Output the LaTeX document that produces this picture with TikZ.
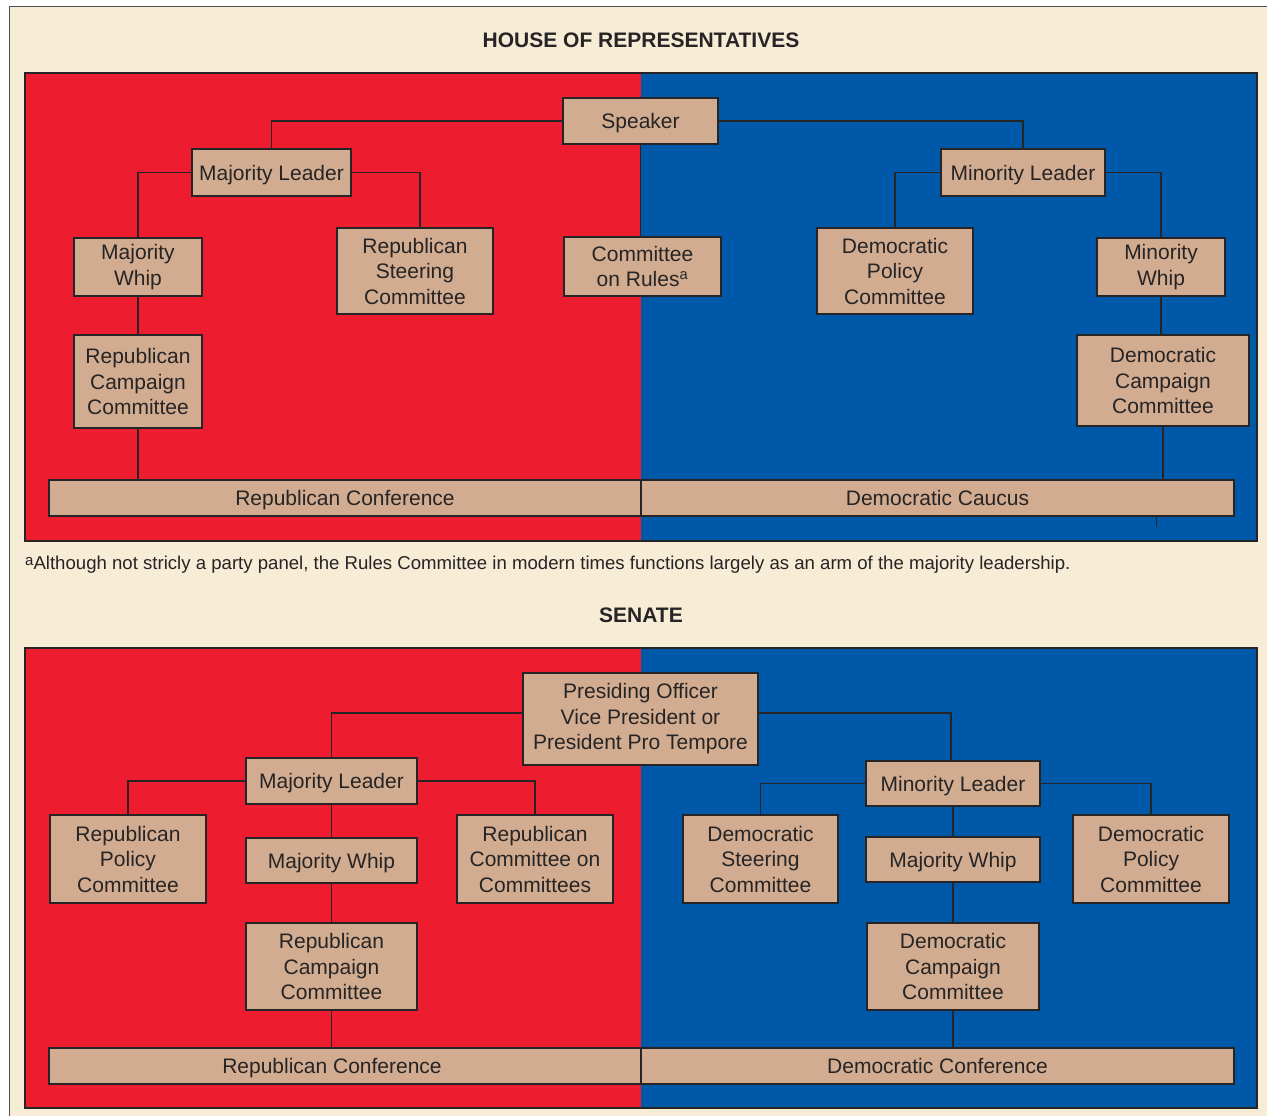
\documentclass[tikz,border=0pt]{standalone}
\usepackage{fontspec}
\setmainfont{Liberation Sans}
\definecolor{rd}{HTML}{ED1C2E}
\definecolor{bl}{HTML}{0059A8}
\definecolor{tan}{HTML}{D2AC91}
\definecolor{cream}{HTML}{F7ECD6}
\definecolor{ink}{HTML}{262424}
\begin{document}
\begin{tikzpicture}[x=1pt,y=-1pt,
  box/.style={draw=ink,line width=1.4pt,fill=tan,inner sep=0pt,align=center,text=ink,
    font=\fontsize{21}{25.5}\selectfont},
  one/.style={text height=15.2pt,text depth=0pt},
  conn/.style={draw=ink,line width=1.4pt},
  ttl/.style={font=\fontsize{21}{25}\selectfont\bfseries,text=ink,inner sep=0pt},
  panel/.style={draw=ink,line width=1.2pt}]
\useasboundingbox (0,0) rectangle (1267,1116);
\fill[white] (0,0) rectangle (1267,1116);
\draw[fill=cream,draw=ink!80,line width=1.2pt] (9.5,6.5) rectangle (1290,1140);
% panels
\fill[rd] (25,73) rectangle (641,541);
\fill[bl] (641,73) rectangle (1257,541);
\draw[panel] (25,73) rectangle (1257,541);
\fill[rd] (25,648) rectangle (641,1108);
\fill[bl] (641,648) rectangle (1257,1108);
\draw[panel] (25,648) rectangle (1257,1108);
% titles
\node[ttl] (t1) at (641,40) {HOUSE OF REPRESENTATIVES};
\node[ttl] (t2) at (641,615) {SENATE};
\node[anchor=west,text=ink,inner sep=0pt,font=\fontsize{18.6}{22}\selectfont] (fn) at (25,565)
  {\raisebox{0.45ex}{\fontsize{15}{15}\selectfont a}Although not stricly a party panel, the Rules Committee in modern times functions largely as an arm of the majority leadership.};
% House nodes
\node[box,one,minimum width=155pt,minimum height=46pt] (hSpk) at (640.5,121) {Speaker};
\node[box,one,minimum width=159pt,minimum height=47pt] (hMajL) at (271.5,172.5) {Majority Leader};
\node[box,one,minimum width=164pt,minimum height=47pt] (hMinL) at (1023,172.5) {Minority Leader};
\node[box,minimum width=128pt,minimum height=58pt] (hMajW) at (138,267) {Majority\\Whip};
\node[box,minimum width=156pt,minimum height=86pt] (hRSC) at (415,271) {Republican\\Steering\\Committee};
\node[box,minimum width=157pt,minimum height=59pt] (hRules) at (642.5,266.5) {Committee\\on Rules\textsuperscript{a}};
\node[box,minimum width=156pt,minimum height=86pt] (hDPC) at (895,271) {Democratic\\Policy\\Committee};
\node[box,minimum width=128pt,minimum height=58pt] (hMinW) at (1161,267) {Minority\\Whip};
\node[box,minimum width=128pt,minimum height=93pt] (hRCC) at (138,381.5) {Republican\\Campaign\\Committee};
\node[box,minimum width=172pt,minimum height=91pt] (hDCC) at (1163,380.5) {Democratic\\Campaign\\Committee};
\node[box,one,minimum width=592pt,minimum height=36pt] (hRConf) at (345,498) {Republican Conference};
\node[box,one,minimum width=593pt,minimum height=36pt] (hDCau) at (937.5,498) {Democratic Caucus};
\coordinate (stub) at (1156,527);
% House connectors
\draw[conn] (hSpk.west) -| (hMajL.north);
\draw[conn] (hSpk.east) -| (hMinL.north);
\draw[conn] (hSpk.south) -- (hSpk.south |- hRules.north);
\draw[conn] (hMajL.west) -| (hMajW.north);
\draw[conn] (hMajL.east) -| ([xshift=5pt]hRSC.north);
\draw[conn] (hMajW.south) -- (hRCC.north);
\draw[conn] (hRCC.south) -- (hRCC.south |- hRConf.north);
\draw[conn] (hMinL.west) -| (hDPC.north);
\draw[conn] (hMinL.east) -| (hMinW.north);
\draw[conn] (hMinW.south) -- (hMinW.south |- hDCC.north);
\draw[conn] (hDCC.south) -- (hDCC.south |- hDCau.north);
\draw[conn,line width=1pt] (hDCau.south -| stub) -- (stub);
% Senate nodes
\node[box,minimum width=235pt,minimum height=92pt] (sPO) at (640.5,719) {Presiding Officer\\Vice President or\\President Pro Tempore};
\node[box,one,minimum width=171pt,minimum height=46pt] (sMajL) at (331.5,781) {Majority Leader};
\node[box,one,minimum width=174pt,minimum height=45pt] (sMinL) at (953,783.5) {Minority Leader};
\node[box,minimum width=156pt,minimum height=88pt] (sRPC) at (128,859) {Republican\\Policy\\Committee};
\node[box,one,minimum width=171pt,minimum height=45pt] (sMajW) at (331.5,860.5) {Majority Whip};
\node[box,minimum width=156pt,minimum height=88pt] (sRCoC) at (535,859) {Republican\\Committee on\\Committees};
\node[box,minimum width=155pt,minimum height=88pt] (sDSC) at (760.5,859) {Democratic\\Steering\\Committee};
\node[box,one,minimum width=174pt,minimum height=45pt] (sMajW2) at (953,859.5) {Majority Whip};
\node[box,minimum width=156pt,minimum height=88pt] (sDPC) at (1151,859) {Democratic\\Policy\\Committee};
\node[box,minimum width=171pt,minimum height=87pt] (sRCC) at (331.5,966.5) {Republican\\Campaign\\Committee};
\node[box,minimum width=172pt,minimum height=87pt] (sDCC) at (953,966.5) {Democratic\\Campaign\\Committee};
\node[box,one,minimum width=592pt,minimum height=36pt] (sRConf) at (345,1066) {\hspace*{-26pt}Republican Conference};
\node[box,one,minimum width=593pt,minimum height=36pt] (sDConf) at (937.5,1066) {Democratic Conference};
% Senate connectors
\draw[conn] ([yshift=6pt]sPO.west) -| (sMajL.north);
\draw[conn] ([yshift=6pt]sPO.east) -| ([xshift=-2pt]sMinL.north);
\draw[conn] (sMajL.west) -| (sRPC.north);
\draw[conn] (sMajL.east) -| (sRCoC.north);
\draw[conn] (sMajL.south) -- (sMajW.north);
\draw[conn] (sMajW.south) -- (sRCC.north);
\draw[conn] (sRCC.south) -- (sRCC.south |- sRConf.north);
\draw[conn] (sMinL.west) -| (sDSC.north);
\draw[conn] (sMinL.east) -| (sDPC.north);
\draw[conn] (sMinL.south) -- (sMajW2.north);
\draw[conn] (sMajW2.south) -- (sDCC.north);
\draw[conn] (sDCC.south) -- (sDCC.south |- sDConf.north);
\end{tikzpicture}
\end{document}
